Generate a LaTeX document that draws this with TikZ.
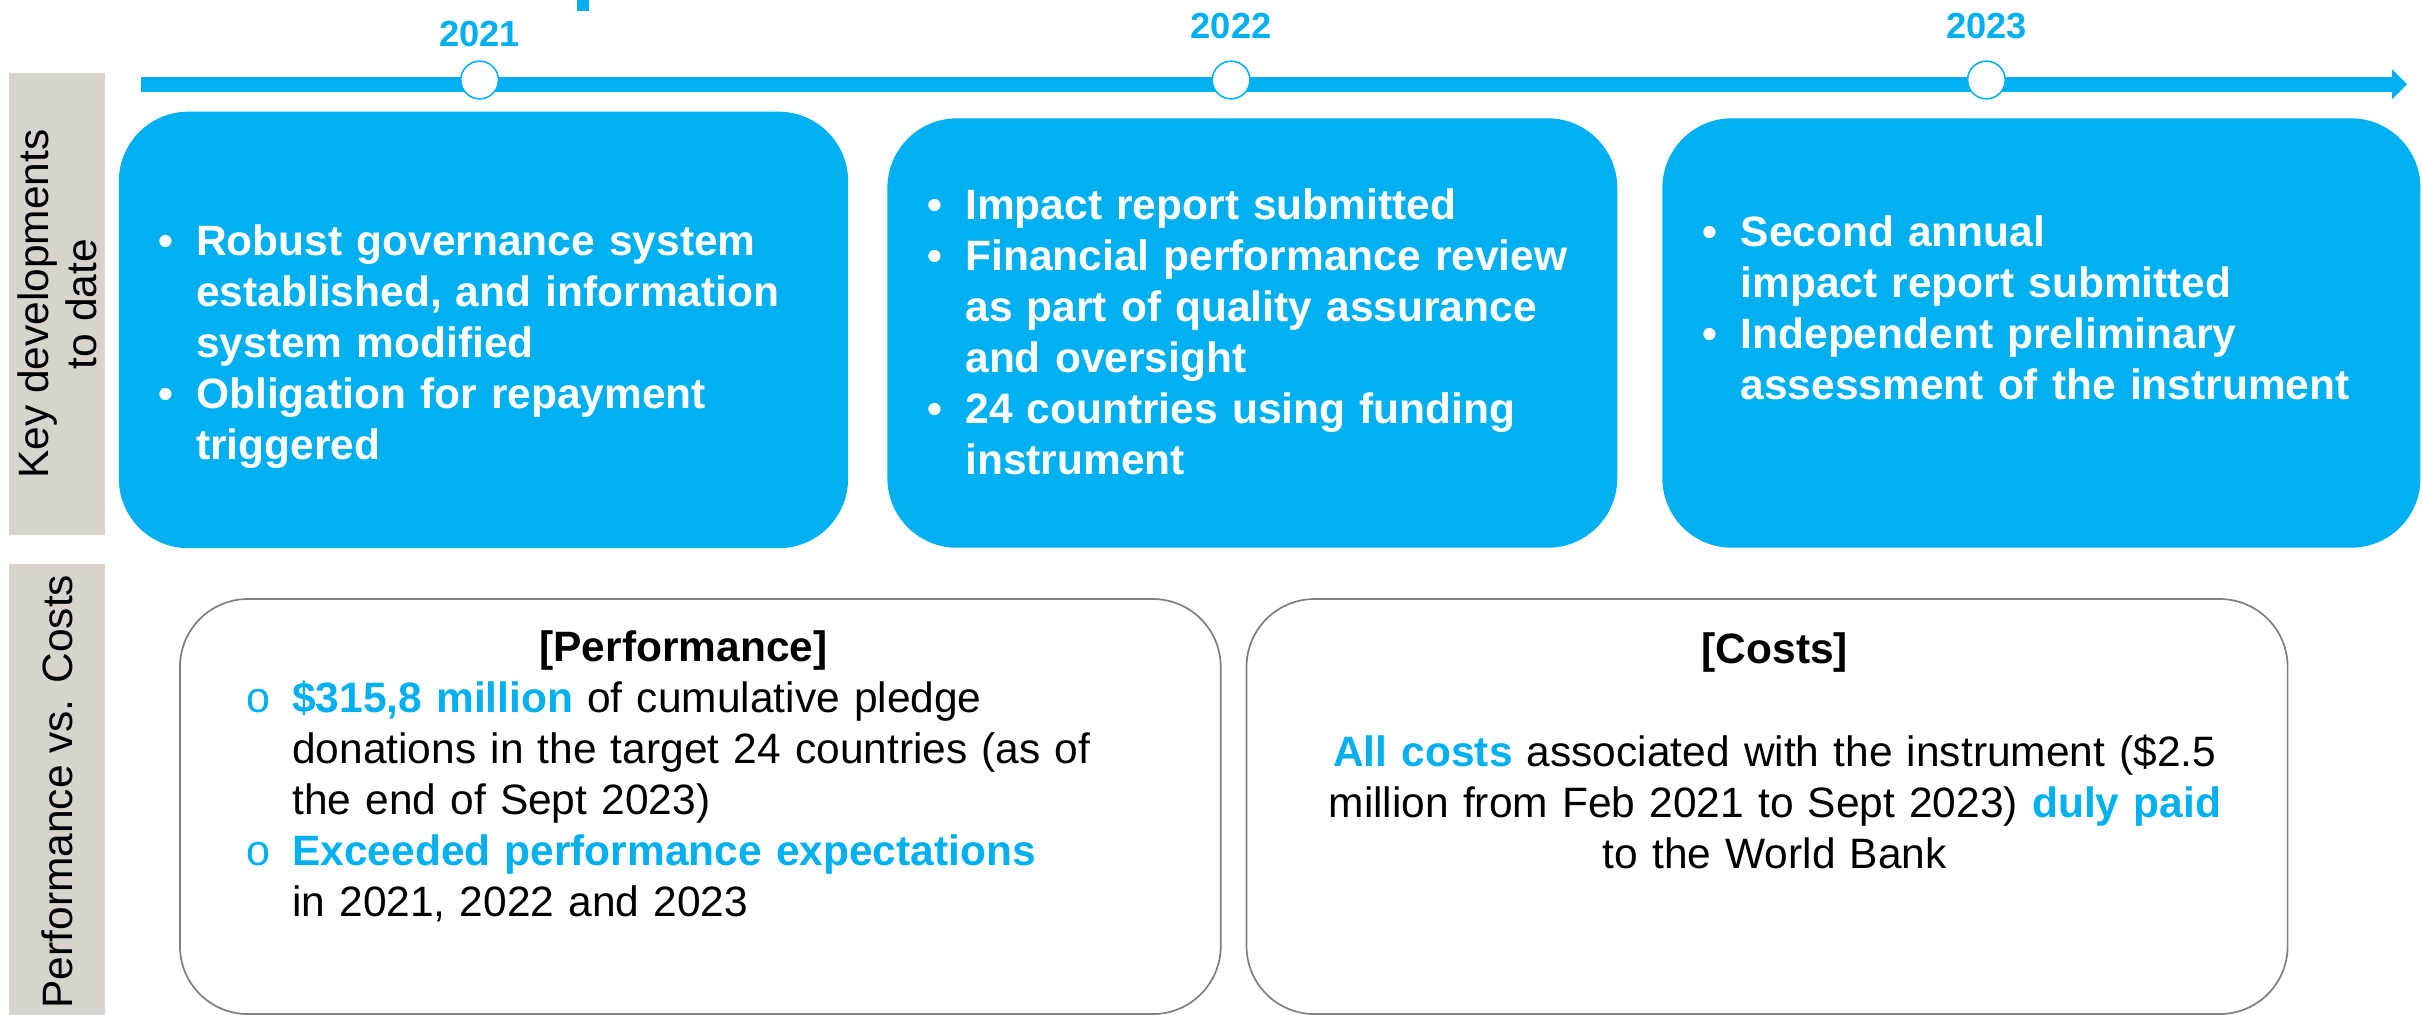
\documentclass[tikz,border=0pt]{standalone}
\usepackage{fontspec}
\setmainfont{Liberation Sans}
\newfontfamily\kdmono{Liberation Mono}
\usetikzlibrary{arrows.meta}
\definecolor{kdblue}{RGB}{0,176,240}
\definecolor{kdgrey}{RGB}{217,211,205}
\definecolor{kdframe}{RGB}{127,127,127}
\newcommand{\kdpoint}[1]{\noindent\hangindent=24.4pt\hangafter=1\makebox[24.4pt][l]{\textbullet}#1\par}
\newcommand{\pfpoint}[1]{\noindent\hangindent=30.3pt\hangafter=1\makebox[30.3pt][l]{\kdmono\fontsize{28}{33}\selectfont\color{kdblue}o}#1\par}
\tikzset{
    devbox/.style={rectangle, rounded corners=45pt, fill=kdblue, inner sep=0pt},
    pvcbox/.style={rectangle, rounded corners=44pt, draw=kdframe, line width=1.1pt, fill=white, inner sep=0pt},
    sidelabel/.style={rectangle, fill=kdgrey, rotate=90, inner sep=0pt, align=center, font=\fontsize{27.5}{31}\selectfont},
    yeardot/.style={circle, draw=kdblue, fill=white, line width=1pt, minimum size=24.4pt, inner sep=0pt},
    yearlabel/.style={anchor=base, inner sep=0pt, text=kdblue, font=\fontsize{23.5}{28}\selectfont\bfseries},
    devtext/.style={anchor=base west, inner sep=0pt, align=left, text=white, font=\fontsize{27.5}{33}\selectfont\bfseries},
    pvctext/.style={inner sep=0pt, font=\fontsize{27.5}{33}\selectfont}
}
\begin{document}
\begin{tikzpicture}[x=1pt,y=-1pt]
        \path[use as bounding box] (0,0) rectangle (1568,657);
        \clip (0,0) rectangle (1568,657);

        \node[sidelabel, minimum width=299.1pt, minimum height=62.2pt] (keylabel) at (36.9,196.85) {Key developments\\to date};
        \node[sidelabel, minimum width=295pt, minimum height=62.2pt] (pvclabel) at (36.9,512.5) {Performance vs. Costs};

        \fill[kdblue] (373.3,0) rectangle (381.4,7.1);

        \coordinate (tlstart) at (91.5,54.5);
        \coordinate (tlend) at (1558.4,54.5);
        \draw[kdblue, line width=9.7pt, -{Triangle[length=9.8pt,width=18.8pt]}] (tlstart) -- (tlend);

        \node[yeardot] (dot21) at (310.5,51.8) {};
        \node[yeardot] (dot22) at (797,51.8) {};
        \node[yeardot] (dot23) at (1286,51.8) {};
        \node[yearlabel] (yr21) at (310.5,30.2) {2021};
        \node[yearlabel] (yr22) at (797,24.7) {2022};
        \node[yearlabel] (yr23) at (1286,24.7) {2023};

        \node[devbox, minimum width=472.1pt, minimum height=282.6pt] (dev21) at (313,213.6) {};
        \node[devbox, minimum width=472.5pt, minimum height=278pt] (dev22) at (810.75,215.6) {};
        \node[devbox, minimum width=490.8pt, minimum height=278pt] (dev23) at (1321.6,215.6) {};

        \node[devtext, text width=440pt] (dev21txt) at (102.5,165.7) {\kdpoint{Robust governance system\newline established, and information\newline system modified}\kdpoint{Obligation for repayment\newline triggered}};
        \node[devtext, text width=440pt] (dev22txt) at (600.4,142.4) {\kdpoint{Impact report submitted}\kdpoint{Financial performance review\newline as part of quality assurance\newline and oversight}\kdpoint{24 countries using funding\newline instrument}};
        \node[devtext, text width=450pt] (dev23txt) at (1102.3,159.7) {\kdpoint{Second annual\newline impact report submitted}\kdpoint{Independent preliminary\newline assessment of the instrument}};

        \node[pvcbox, minimum width=673.8pt, minimum height=268.7pt] (perfbox) at (453.4,522.15) {};
        \node[pvcbox, minimum width=674pt, minimum height=268.7pt] (costbox) at (1144,522.15) {};

        \node[pvctext, anchor=base, font=\fontsize{27.5}{33}\selectfont\bfseries] (perftitle) at (442.5,428.4) {[Performance]};
        \node[pvctext, anchor=base west, text width=600pt, align=left] (perftxt) at (158.7,461.4) {\pfpoint{{\bfseries\color{kdblue}\$315,8 million} of cumulative pledge\newline donations in the target 24 countries (as of\newline the end of Sept 2023)}\pfpoint{{\bfseries\color{kdblue}Exceeded performance expectations}\newline in 2021, 2022 and 2023}};

        \node[pvctext, anchor=base, font=\fontsize{27.5}{33}\selectfont\bfseries] (costtitle) at (1149,429.4) {[Costs]};
        \node[pvctext, anchor=base, text width=660pt, align=center] (costtxt) at (1149,496.4) {{\bfseries\color{kdblue}All costs} associated with the instrument (\$2.5\\million from Feb 2021 to Sept 2023) {\bfseries\color{kdblue}duly paid}\\to the World Bank};
    \end{tikzpicture}
\end{document}
